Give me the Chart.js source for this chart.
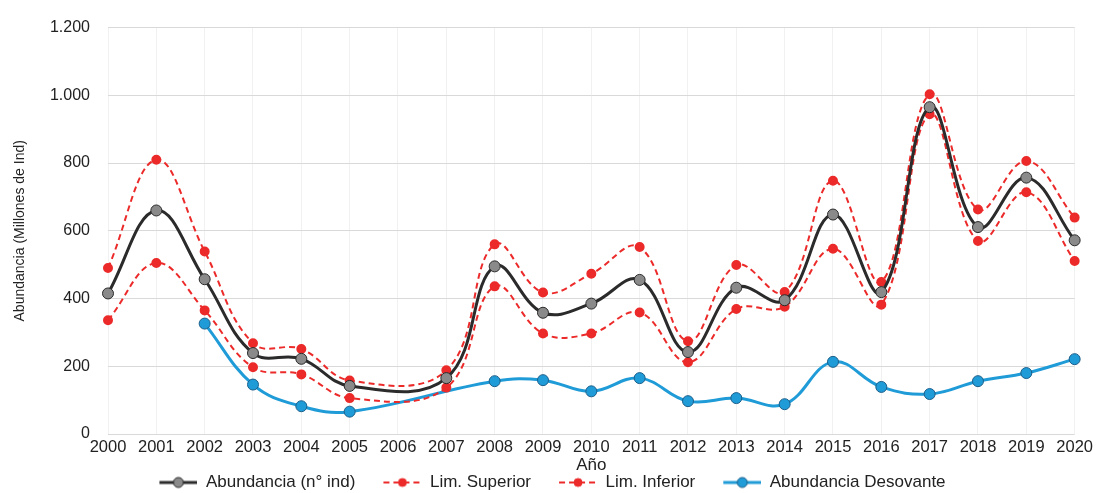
<!DOCTYPE html>
<html>
<head>
<meta charset="utf-8">
<script src="https://cdn.jsdelivr.net/npm/chart.js@4/dist/chart.umd.min.js"></script>
<style>
  html, body { margin: 0; padding: 0; background: #fff; }
  #wrap { width: 1097px; height: 493px; }
</style>
</head>
<body>
<div id="wrap"><canvas id="abundChart" width="1097" height="493"></canvas></div>
<script>
const years = ['2000','2001','2002','2003','2004','2005','2006','2007','2008','2009','2010',
               '2011','2012','2013','2014','2015','2016','2017','2018','2019','2020'];

// valores (millones de individuos)
const abundancia = [415, 660, 457, 239, 222, 142, null, 165, 495, 358, 385,
                    455, 242, 432, 395, 648, 419, 965, 611, 757, 572];
const limSuperior = [490, 810, 539, 268, 251, 158, null, 188, 560, 418, 473,
                     552, 274, 499, 419, 748, 449, 1003, 663, 806, 639];
const limInferior = [336, 505, 365, 197, 176, 106, null, 137, 436, 297, 297,
                     359, 212, 369, 376, 547, 382, 944, 570, 714, 511];
const desovante = [null, null, 326, 146, 82, 66, null, null, 156, 159, 126,
                   165, 97, 106, 88, 213, 139, 118, 156, 180, 221];

const yTicks = [0, 200, 400, 600, 800, 1000, 1200];

const FONT = '"Liberation Sans", Arial, sans-serif';

// icono de leyenda: espacio + línea + marcador
function legendIcon(color, dash, width, fill, stroke, r) {
    const c = document.createElement('canvas');
    c.width = 66; c.height = 16;
    const g = c.getContext('2d');
    g.strokeStyle = color;
    g.lineWidth = width;
    g.setLineDash(dash);
    g.beginPath();
    g.moveTo(28, 8); g.lineTo(66, 8);
    g.stroke();
    g.setLineDash([]);
    g.beginPath();
    g.arc(47, 8, r, 0, Math.PI * 2);
    g.fillStyle = fill;
    g.fill();
    g.lineWidth = 1;
    g.strokeStyle = stroke;
    g.stroke();
    return c;
}

function initChart() {
    const ctx = document.getElementById('abundChart');
    if (!ctx) return;

    const icons = [
        legendIcon('#2b2b2b', [], 3, '#8a8a8a', '#2b2b2b', 5),
        legendIcon('#ec2a2a', [6, 4], 2, '#ec2a2a', '#ec2a2a', 4),
        legendIcon('#ec2a2a', [6, 4], 2, '#ec2a2a', '#ec2a2a', 4),
        legendIcon('#1f9bd7', [], 3, '#1f9bd7', '#1c5f8a', 5)
    ];

    new Chart(ctx, {
        type: 'line',
        data: {
            labels: years,
            datasets: [
                {
                    label: 'Abundancia (n° ind)',
                    data: abundancia,
                    borderColor: '#2b2b2b',
                    borderWidth: 3,
                    pointBackgroundColor: '#8a8a8a',
                    pointBorderColor: '#2b2b2b',
                    pointBorderWidth: 1,
                    pointRadius: 5.5,
                    tension: 0.4,
                    spanGaps: true,
                    fill: false
                },
                {
                    label: 'Lim. Superior',
                    data: limSuperior,
                    borderColor: '#ec2a2a',
                    borderWidth: 2,
                    borderDash: [6, 4],
                    pointBackgroundColor: '#ec2a2a',
                    pointBorderColor: '#ec2a2a',
                    pointRadius: 4,
                    tension: 0.4,
                    spanGaps: true,
                    fill: false
                },
                {
                    label: 'Lim. Inferior',
                    data: limInferior,
                    borderColor: '#ec2a2a',
                    borderWidth: 2,
                    borderDash: [6, 4],
                    pointBackgroundColor: '#ec2a2a',
                    pointBorderColor: '#ec2a2a',
                    pointRadius: 4,
                    tension: 0.4,
                    spanGaps: true,
                    fill: false
                },
                {
                    label: 'Abundancia Desovante',
                    data: desovante,
                    borderColor: '#1f9bd7',
                    borderWidth: 3,
                    pointBackgroundColor: '#1f9bd7',
                    pointBorderColor: '#1c5f8a',
                    pointBorderWidth: 1,
                    pointRadius: 5.5,
                    tension: 0.4,
                    spanGaps: true,
                    fill: false
                }
            ]
        },
        options: {
            responsive: false,
            animation: false,
            layout: { padding: { top: 27, right: 20, bottom: -8, left: 0 } },
            plugins: {
                legend: {
                    position: 'bottom',
                    labels: {
                        color: '#222',
                        font: { family: FONT, size: 17 },
                        usePointStyle: true,
                        pointStyleWidth: 66,
                        padding: 0,
                        generateLabels: chart => chart.data.datasets.map((ds, i) => ({
                            text: ds.label,
                            pointStyle: icons[i],
                            fillStyle: ds.borderColor,
                            strokeStyle: ds.borderColor,
                            lineWidth: 0,
                            datasetIndex: i,
                            hidden: false,
                            fontColor: '#222'
                        }))
                    }
                },
                tooltip: { enabled: false }
            },
            scales: {
                x: {
                    offset: false,
                    afterFit: s => { s.height = 40; },
                    grid: { color: '#f1f1f1', drawTicks: false },
                    border: { display: false },
                    ticks: {
                        color: '#222',
                        font: { family: FONT, size: 16.5 },
                        padding: 4,
                        maxRotation: 0,
                        autoSkip: false
                    },
                    title: {
                        display: true,
                        text: 'Año',
                        color: '#222',
                        font: { family: FONT, size: 17 },
                        padding: { top: 0, bottom: -2 }
                    }
                },
                y: {
                    min: 0,
                    max: 1200,
                    afterFit: s => { s.width = 108; },
                    afterBuildTicks: s => { s.ticks = yTicks.map(v => ({ value: v })); },
                    grid: { color: '#d9d9d9', drawTicks: false },
                    border: { display: false },
                    ticks: {
                        color: '#222',
                        font: { family: FONT, size: 16 },
                        padding: 18,
                        callback: v => v.toLocaleString('de-DE')
                    },
                    title: {
                        display: true,
                        text: 'Abundancia (Millones de Ind)',
                        color: '#222',
                        font: { family: FONT, size: 14 },
                        padding: { top: 12, bottom: 0 }
                    }
                }
            }
        }
    });
}

document.addEventListener("DOMContentLoaded", () => {
    initChart();
});
</script>
</body>
</html>
